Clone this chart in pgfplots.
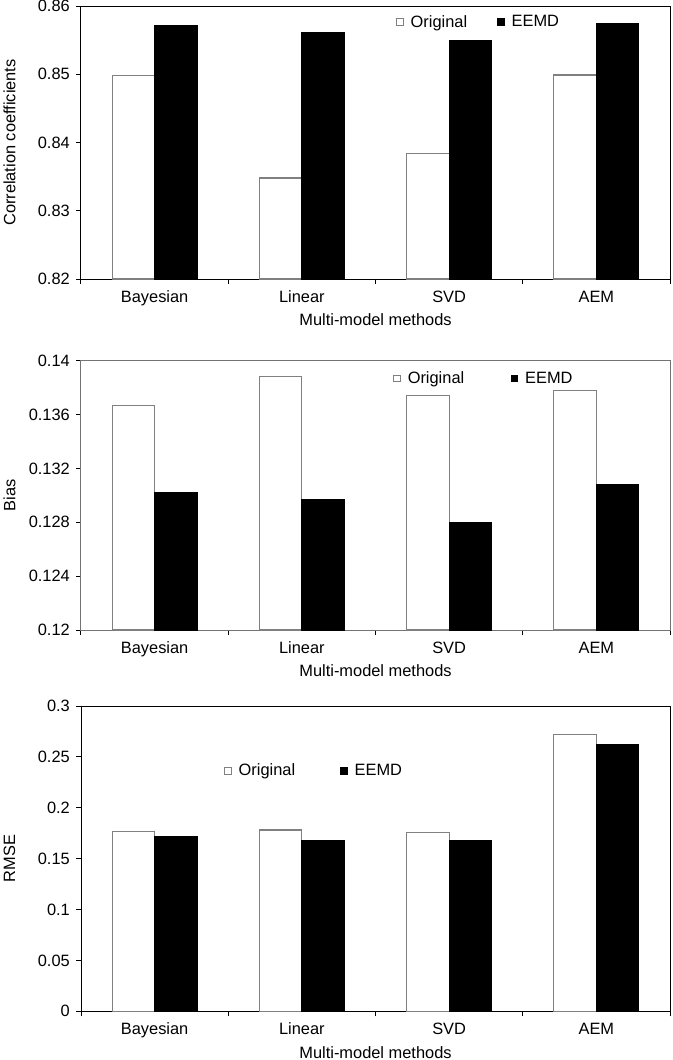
\documentclass[border=0pt]{standalone}
\usepackage{pgfplots}
\pgfplotsset{compat=1.18}
\usepackage{fontspec}
\setmainfont{Liberation Sans}

\pgfplotsset{
  panel/.style={
    scale only axis,
    width=589pt,
    xmin=-0.5, xmax=3.5,
    ybar=0pt, bar width=42.5pt,
    xtick={-0.5,0.5,1.5,2.5,3.5},
    xticklabels={},
    extra x ticks={0,1,2,3},
    extra x tick labels={Bayesian,Linear,SVD,AEM},
    extra x tick style={major tick length=0pt},
    tick align=outside,
    major tick length=5pt,
    tick pos=left,
    axis line style={line width=1pt},
    every tick/.style={black, line width=1pt},
    /pgf/number format/assume math mode=true,
    xticklabel style={anchor=base, inner sep=0pt, yshift=-23pt},
    yticklabel style={anchor=east, inner sep=0pt, xshift=-6pt},
    xlabel={Multi-model methods},
    xlabel style={at={(axis description cs:0.5,0)}, anchor=base, yshift=-46.7pt},
    ylabel style={at={(axis description cs:-0.1214,0.5)}, anchor=center},
    legend columns=2,
    legend cell align=left,
    legend image code/.code={\path[draw=none,fill=none] (0pt,0pt) -- (11pt,0pt);\draw[#1,line width=0.8pt] (0pt,-3.2pt) rectangle (6.5pt,3.2pt);},
    orig/.style={draw=black!50, fill=white, line width=1.2pt},
    eemd/.style={draw=black, fill=black, line width=1pt},
  }
}

\begin{document}
\begin{tikzpicture}[font=\fontsize{16.4}{19.7}\selectfont]
\useasboundingbox (0,0) rectangle (672pt,-1060pt);

% Panel 1
\begin{axis}[panel,
  at={(81pt,-279pt)}, anchor=south west,
  height=273pt,
  ymin=0.82, ymax=0.86,
  ytick={0.82,0.83,0.84,0.85,0.86},
  yticklabels={0.82,0.83,0.84,0.85,0.86},
  ylabel={Correlation coefficients},
  legend style={draw=none, fill=none, inner sep=0pt, nodes={inner sep=3pt},
    at={(0.535,0.942)}, anchor=west,
    /tikz/every even column/.append style={column sep=27pt}},
]
\addplot[orig] coordinates {(0,0.8498) (1,0.8348) (2,0.8384) (3,0.8499)};
\addplot[eemd] coordinates {(0,0.8571) (1,0.8561) (2,0.8549) (3,0.8575)};
\legend{Original,EEMD}
\end{axis}

% Panel 2
\begin{axis}[panel,
  at={(81pt,-630pt)}, anchor=south west,
  height=269.3pt,
  ymin=0.12, ymax=0.14,
  ytick={0.12,0.124,0.128,0.132,0.136,0.14},
  yticklabels={0.12,0.124,0.128,0.132,0.136,0.14},
  ylabel={Bias},
  axis line style={black!55, line width=1pt},
  legend style={draw=none, fill=none, inner sep=0pt, nodes={inner sep=3pt},
    at={(0.530,0.935)}, anchor=west,
    /tikz/every even column/.append style={column sep=43.5pt}},
]
\addplot[orig] coordinates {(0,0.1367) (1,0.1388) (2,0.1374) (3,0.1378)};
\addplot[eemd] coordinates {(0,0.1302) (1,0.1297) (2,0.1280) (3,0.1308)};
\legend{Original,EEMD}
\end{axis}

% Panel 3
\begin{axis}[panel,
  at={(81pt,-1011.3pt)}, anchor=south west,
  height=305.3pt,
  ymin=0, ymax=0.3,
  ytick={0,0.05,0.1,0.15,0.2,0.25,0.3},
  yticklabels={0,0.05,0.1,0.15,0.2,0.25,0.3},
  ylabel={RMSE},
  legend style={draw=none, fill=none, inner sep=0pt, nodes={inner sep=3pt},
    at={(0.243,0.788)}, anchor=west,
    /tikz/every even column/.append style={column sep=42pt}},
]
\addplot[orig] coordinates {(0,0.1765) (1,0.1782) (2,0.1759) (3,0.2718)};
\addplot[eemd] coordinates {(0,0.1713) (1,0.1674) (2,0.1680) (3,0.2623)};
\legend{Original,EEMD}
\end{axis}
\end{tikzpicture}
\end{document}
